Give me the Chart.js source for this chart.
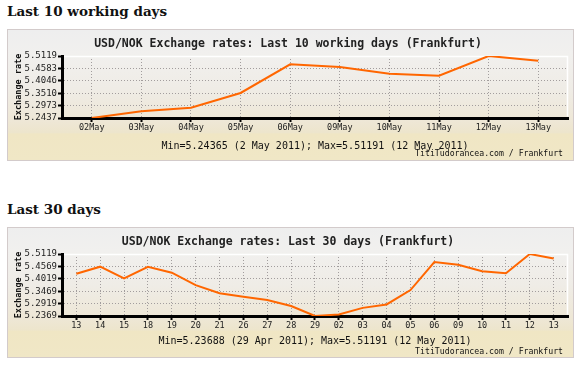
<!DOCTYPE html>
<html><head><meta charset="utf-8">
<script src="https://cdn.jsdelivr.net/npm/chart.js@4.4.1/dist/chart.umd.min.js"></script>
<style>
html,body{margin:0;padding:0;background:#fff;width:583px;height:366px;overflow:hidden;position:relative}
.h{position:absolute;left:7px;font:bold 13.5px "DejaVu Serif";line-height:16px;color:#111;margin:0;white-space:nowrap}
.box{position:absolute;left:7px;width:567px;box-sizing:border-box;border:1px solid #d3cbcb;
 background:linear-gradient(to bottom,#eeeeee 0%,#f1f0ee 18%,#efece6 45%,#eee7d6 70%,#ede5cc 79%,#f0e6c4 80%,#f0e7c6 100%)}
.box canvas{position:absolute;left:0;top:0}
</style></head><body>
<div class="h" style="top:3px">Last 10 working days</div>
<div class="box" style="top:29px;height:132px"><canvas id="c1" width="565" height="130" style="width:565px;height:130px"></canvas></div>
<div class="h" style="top:200.6px">Last 30 days</div>
<div class="box" style="top:227px;height:131px"><canvas id="c2" width="565" height="129" style="width:565px;height:129px"></canvas></div>
<script>
// ---- data ----
const days10 = ["02May","03May","04May","05May","06May","09May","10May","11May","12May","13May"];
const rates10 = [5.24365,5.2730,5.2880,5.3520,5.4760,5.4645,5.4350,5.4265,5.51191,5.4915];
const yTicks10 = ["5.2437","5.2973","5.3510","5.4046","5.4583","5.5119"];
const title10 = "USD/NOK Exchange rates: Last 10 working days (Frankfurt)";
const minmax10 = "Min=5.24365 (2 May 2011); Max=5.51191 (12 May 2011)";

const days30 = ["13","14","15","18","19","20","21","26","27","28","29","02","03","04","05","06","09","10","11","12","13"];
const rates30 = [5.4245,5.4556,5.4041,5.4550,5.4289,5.3740,5.3375,5.3226,5.3079,5.2813,5.23688,5.24365,5.2730,5.2880,5.3520,5.4760,5.4645,5.4350,5.4265,5.51191,5.4915];
const yTicks30 = ["5.2369","5.2919","5.3469","5.4019","5.4569","5.5119"];
const title30 = "USD/NOK Exchange rates: Last 30 days (Frankfurt)";
const minmax30 = "Min=5.23688 (29 Apr 2011); Max=5.51191 (12 May 2011)";

const credit = "TitiTudorancea.com / Frankfurt";
const yTitle = "Exchange rate";

const MONO = '"DejaVu Sans Mono"';

const deco = {
  id: 'deco',
  beforeDatasetsDraw(chart, args, o) {
    const {ctx, chartArea: a} = chart;
    ctx.save();
    ctx.strokeStyle = '#ffffff'; ctx.lineWidth = 1.5;
    ctx.beginPath();
    ctx.moveTo(a.left + 2, a.top + 0.5);
    ctx.lineTo(a.right - 0.5, a.top + 0.5);
    ctx.lineTo(a.right - 0.5, a.bottom - 1.5);
    ctx.stroke();
    ctx.restore();
  },
  afterDraw(chart, args, o) {
    const {ctx, chartArea: a} = chart;
    ctx.save();
    ctx.fillStyle = '#111';
    ctx.textBaseline = 'middle';
    ctx.font = '10px ' + MONO;
    ctx.textAlign = 'center';
    ctx.fillText(o.minmax, (a.left + a.right) / 2, o.minY);
    ctx.font = '8.2px ' + MONO;
    ctx.textAlign = 'right';
    ctx.fillText(o.credit, o.creditX, o.creditY);
    ctx.restore();
  }
};

function makeChart(id, labels, values, yTicks, title, minmax, padBottom, minY, creditY) {
  const tickVals = yTicks.map(parseFloat);
  const last = labels.length - 1;
  return new Chart(document.getElementById(id), {
    type: 'line',
    data: {
      datasets: [{
        data: values.map((v, i) => ({x: i, y: v})),
        borderColor: '#ff6600', borderWidth: 2, pointRadius: 0, tension: 0, fill: false
      }]
    },
    plugins: [deco],
    options: {
      responsive: false, maintainAspectRatio: false, animation: false,
      layout: {padding: {left: 0, right: 5, top: 0, bottom: padBottom}},
      plugins: {
        legend: {display: false}, tooltip: {enabled: false},
        title: {display: true, text: title, color: '#222',
          font: {family: MONO, size: 11.5, weight: 'bold', lineHeight: 1.2},
          padding: {top: 7.1, bottom: 5.1}},
        deco: {minmax: minmax, credit: credit, minY: minY, creditX: 555, creditY: creditY}
      },
      scales: {
        x: {
          type: 'linear', min: -0.6, max: last + 0.6,
          afterBuildTicks: s => { s.ticks = labels.map((_, i) => ({value: i})); },
          afterFit: s => { s.height = 16; },
          ticks: {callback: v => labels[v], autoSkip: false, maxRotation: 0, minRotation: 0,
            font: {family: MONO, size: 8.5}, color: '#222', padding: 1},
          grid: {color: '#a29d9d', lineWidth: 1, tickLength: 4, tickWidth: 2, tickColor: '#000'},
          border: {display: true, color: '#000', width: 3, dash: [1, 2]}
        },
        y: {
          type: 'linear', min: tickVals[0], max: tickVals[tickVals.length - 1],
          afterBuildTicks: s => { s.ticks = tickVals.map(v => ({value: v})); },
          afterFit: s => { s.width = 54; },
          ticks: {callback: (v, i) => yTicks[i], autoSkip: false, font: {family: MONO, size: 9}, color: '#222', padding: 1},
          grid: {color: c => (c.index === yTicks.length - 1 || c.index === 0) ? 'rgba(0,0,0,0)' : '#a29d9d',
            lineWidth: 1, tickLength: 4, tickWidth: 2, tickColor: '#000'},
          border: {display: true, color: '#000', width: 3, dash: [1, 2]},
          title: {display: true, text: yTitle, color: '#111',
            font: {family: MONO, size: 8.5, weight: 'bold', lineHeight: 1.2}, padding: {top: 6, bottom: 0}}
        }
      }
    }
  });
}

makeChart('c1', days10, rates10, yTicks10, title10, minmax10, 26, 116.3, 123.7);
makeChart('c2', days30, rates30, yTicks30, title30, minmax30, 25, 113.7, 124.3);
</script>
</body></html>
